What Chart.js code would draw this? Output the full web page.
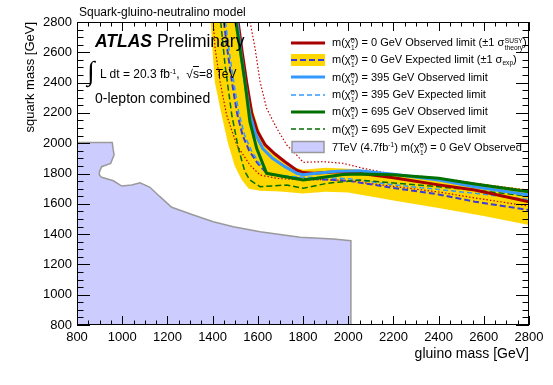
<!DOCTYPE html>
<html>
<head>
<meta charset="utf-8">
<script src="https://cdn.jsdelivr.net/npm/chart.js@4.4.1/dist/chart.umd.min.js"></script>
<style>
body{margin:0;background:#fff;}
#wrap{position:relative;width:553px;height:385px;font-family:"Liberation Sans",Arial,Helvetica,sans-serif;color:#000;overflow:hidden;}
#c{position:absolute;left:0;top:0;}
.t{position:absolute;white-space:nowrap;line-height:1;}
.sw{position:absolute;left:291px;}
.lt{position:absolute;left:332px;font-size:11px;line-height:1;white-space:nowrap;}
.ss{display:inline-flex;flex-direction:column;font-size:0.6em;line-height:0.95;vertical-align:0.4em;margin-left:0.5px;}
sup.s{font-size:0.6em;vertical-align:0.6em;line-height:0;}
sub.s{font-size:0.6em;vertical-align:-0.3em;line-height:0;}
</style>
</head>
<body>
<div id="wrap">
<canvas id="c" width="553" height="385"></canvas>

<div class="t" style="left:79px;top:6px;font-size:12px;">Squark-gluino-neutralino model</div>
<div class="t" style="left:95px;top:33px;font-size:17.5px;"><b><i>ATLAS</i></b> Preliminary</div>
<div class="t" style="left:87px;top:57px;font-size:27px;font-family:'DejaVu Sans';font-weight:200;">∫</div>
<div class="t" style="left:100px;top:68px;font-size:12px;">L dt = 20.3 fb<sup class="s">-1</sup>,&nbsp; √<span style="text-decoration:overline">s</span>=8 TeV</div>
<div class="t" style="left:95px;top:91px;font-size:14px;">0-lepton combined</div>

<!-- legend -->
<svg class="sw" style="top:36px" width="35" height="14"><line x1="0" y1="7" x2="34" y2="7" stroke="#a80000" stroke-width="3"/></svg>
<div class="lt" style="top:37px;">m(χ̃<span class="ss"><span>0</span><span>1</span></span>) = 0 GeV Observed limit (±1 σ<span class="ss"><span>SUSY</span><span>theory</span></span>)</div>

<svg class="sw" style="top:53px" width="35" height="14"><rect x="0" y="1" width="34" height="12" fill="#ffd700"/><line x1="0" y1="7" x2="34" y2="7" stroke="#3b3bd9" stroke-width="2" stroke-dasharray="6 3"/></svg>
<div class="lt" style="top:54px;">m(χ̃<span class="ss"><span>0</span><span>1</span></span>) = 0 GeV Expected limit (±1 σ<sub class="s">exp</sub>)</div>

<svg class="sw" style="top:70px" width="35" height="14"><line x1="0" y1="7" x2="34" y2="7" stroke="#3399ff" stroke-width="3"/></svg>
<div class="lt" style="top:72px;">m(χ̃<span class="ss"><span>0</span><span>1</span></span>) = 395 GeV Observed limit</div>

<svg class="sw" style="top:88px" width="35" height="14"><line x1="0" y1="7" x2="34" y2="7" stroke="#3399ff" stroke-width="1.5" stroke-dasharray="5 3"/></svg>
<div class="lt" style="top:89px;">m(χ̃<span class="ss"><span>0</span><span>1</span></span>) = 395 GeV Expected limit</div>

<svg class="sw" style="top:105px" width="35" height="14"><line x1="0" y1="7" x2="34" y2="7" stroke="#007000" stroke-width="3"/></svg>
<div class="lt" style="top:106px;">m(χ̃<span class="ss"><span>0</span><span>1</span></span>) = 695 GeV Observed limit</div>

<svg class="sw" style="top:122px" width="35" height="14"><line x1="0" y1="7" x2="34" y2="7" stroke="#007000" stroke-width="1.5" stroke-dasharray="5 3"/></svg>
<div class="lt" style="top:124px;">m(χ̃<span class="ss"><span>0</span><span>1</span></span>) = 695 GeV Expected limit</div>

<svg class="sw" style="top:140px" width="35" height="14"><rect x="1" y="1.5" width="32" height="11" fill="#ccccff" stroke="#999999" stroke-width="1.5"/></svg>
<div class="lt" style="top:142px;">7TeV (4.7fb<sup class="s">-1</sup>) m(χ̃<span class="ss"><span>0</span><span>1</span></span>) = 0 GeV Observed</div>
</div>

<script>
// ---- tick labels ----
const xTickVals = [800,1000,1200,1400,1600,1800,2000,2200,2400,2600,2800];
const yTickVals = [800,1000,1200,1400,1600,1800,2000,2200,2400,2600,2800];

// ---- data: [gluino mass, squark mass] ----
const sevenTeV = [[800,800],[800,2005],[956,2005],[960,1960],[964,1922],[949,1867],[909,1845],[899,1810],[899,1790],[909,1775],[961,1752],[998,1717],[1042,1724],[1079,1739],[1123,1709],[1167,1647],[1219,1577],[1315,1526],[1403,1482],[1492,1449],[1610,1416],[1787,1379],[1934,1368],[2012,1356],[2012,800],[800,800]];
const bandUp = [[1508,2800],[1528,2600],[1551,2400],[1582,2200],[1612,2060],[1650,1965],[1700,1895],[1760,1842],[1800,1825],[1900,1838],[2000,1832],[2200,1800],[2400,1765],[2600,1730],[2800,1692]];
const bandLo = [[1392,2800],[1400,2600],[1410,2400],[1438,2200],[1468,2000],[1498,1850],[1528,1760],[1560,1700],[1610,1686],[1700,1682],[1800,1668],[1900,1680],[2000,1675],[2200,1622],[2400,1572],[2600,1520],[2800,1460]];
const obs0 = [[1513,2800],[1531,2600],[1551,2400],[1573,2200],[1598,2080],[1632,1990],[1675,1930],[1720,1878],[1772,1822],[1800,1806],[1850,1802],[1950,1812],[2050,1802],[2200,1772],[2400,1725],[2560,1691],[2800,1614]];
const obs395 = [[1508,2800],[1525,2600],[1544,2400],[1564,2200],[1590,2060],[1622,1965],[1665,1900],[1720,1845],[1775,1800],[1800,1792],[1850,1800],[1950,1815],[2050,1818],[2200,1795],[2400,1757],[2560,1713],[2800,1658]];
const obs695 = [[1503,2800],[1521,2626],[1543,2406],[1565,2142],[1595,1966],[1639,1801],[1698,1785],[1801,1757],[1860,1768],[1978,1794],[2052,1797],[2200,1792],[2400,1768],[2560,1731],[2800,1680]];
const exp0 = [[1450,2800],[1467,2600],[1486,2400],[1508,2200],[1533,2050],[1562,1950],[1598,1870],[1640,1800],[1700,1782],[1800,1766],[1900,1760],[2000,1752],[2200,1705],[2400,1662],[2560,1614],[2800,1559]];
const exp395 = [[1457,2800],[1474,2600],[1494,2400],[1516,2200],[1542,2050],[1572,1950],[1606,1868],[1648,1800],[1700,1786],[1800,1776],[1900,1772],[2000,1766],[2200,1725],[2400,1695],[2560,1669],[2800,1628]];
const exp695 = [[1436,2800],[1455,2516],[1485,2186],[1514,1966],[1543,1812],[1565,1757],[1610,1713],[1728,1724],[1801,1702],[1905,1735],[2052,1757],[2200,1737],[2400,1712],[2560,1690],[2800,1650]];
const thLo = [[1403,2800],[1411,2626],[1433,2406],[1462,2186],[1507,1988],[1565,1856],[1610,1790],[1684,1768],[1801,1757],[1900,1760],[2000,1752],[2200,1715],[2400,1678],[2562,1638],[2800,1585]];
const thUp = [[1566,2800],[1588,2626],[1610,2406],[1639,2230],[1684,2098],[1728,1988],[1770,1925],[1801,1874],[1890,1878],[1978,1867],[2067,1834],[2215,1790],[2347,1779],[2500,1750],[2650,1718],[2800,1690]];

const pts = a => a.map(p => ({x:p[0], y:p[1]}));
const FONT = '"Liberation Sans", Arial, Helvetica, sans-serif';

function lineDs(data, color, width, dash, order){
  return {data: pts(data), borderColor: color, borderWidth: width, borderDash: dash || [],
          pointRadius: 0, fill: false, tension: 0, order: order};
}

const framePlugin = {
  id: 'frame',
  afterDatasetsDraw(chart){
    const {ctx, chartArea: a, scales: {x, y}} = chart;
    ctx.save();
    ctx.strokeStyle = '#000';
    ctx.lineWidth = 1;
    ctx.beginPath();
    const x0 = xTickVals[0], x1 = xTickVals[xTickVals.length-1];
    for (let v = x0; v <= x1; v += 50){
      const px = Math.round(x.getPixelForValue(v)) + 0.5;
      const L = (v % 200 === 0) ? 9 : 4.5;
      ctx.moveTo(px, a.bottom); ctx.lineTo(px, a.bottom - L);
      ctx.moveTo(px, a.top); ctx.lineTo(px, a.top + L);
    }
    const y0 = yTickVals[0], y1 = yTickVals[yTickVals.length-1];
    for (let v = y0; v <= y1; v += 50){
      const py = Math.round(y.getPixelForValue(v)) + 0.5;
      const L = (v % 200 === 0) ? 13 : 6.5;
      ctx.moveTo(a.left, py); ctx.lineTo(a.left + L, py);
      ctx.moveTo(a.right, py); ctx.lineTo(a.right - L, py);
    }
    ctx.stroke();
    ctx.strokeRect(Math.round(a.left)+0.5, Math.round(a.top)+0.5, Math.round(a.right-a.left)-1, Math.round(a.bottom-a.top)-1);
    ctx.restore();
  }
};

new Chart(document.getElementById('c'), {
  type: 'line',
  data: {
    datasets: [
      {data: pts(sevenTeV), borderColor: '#9a9a9a', borderWidth: 1.5, backgroundColor: '#ccccff',
       fill: 'shape', pointRadius: 0, tension: 0, order: 100},
      {data: pts(bandUp.concat(bandLo.slice().reverse())), borderColor: 'rgba(0,0,0,0)', borderWidth: 0,
       backgroundColor: '#ffd700', fill: 'shape', pointRadius: 0, tension: 0, order: 90},
      lineDs(thUp, '#c00000', 1.2, [1.5, 2], 80),
      lineDs(thLo, '#c00000', 1.2, [1.5, 2], 79),
      lineDs(exp0, '#3b3bd9', 2, [6, 3], 70),
      lineDs(exp395, '#3399ff', 1.5, [5, 3], 69),
      lineDs(exp695, '#007000', 1.5, [6, 3], 68),
      lineDs(obs0, '#a80000', 3, [], 60),
      lineDs(obs395, '#3399ff', 3, [], 50),
      lineDs(obs695, '#007000', 3, [], 40)
    ]
  },
  options: {
    responsive: false,
    animation: false,
    layout: {padding: {left: 0, right: 24, top: 22, bottom: 0}},
    plugins: {legend: {display: false}, tooltip: {enabled: false}, title: {display: false}},
    scales: {
      x: {
        type: 'linear', position: 'bottom',
        min: xTickVals[0], max: xTickVals[xTickVals.length-1],
        afterBuildTicks: s => { s.ticks = xTickVals.map(v => ({value: v})); },
        grid: {display: false, drawTicks: false},
        border: {display: false},
        ticks: {color: '#000', font: {family: FONT, size: 13}, padding: 5, maxRotation: 0, autoSkip: false,
                callback: v => String(v)},
        title: {display: true, text: 'gluino mass [GeV]', align: 'end', color: '#000',
                font: {family: FONT, size: 14}, padding: {top: 22, bottom: 22}},
        afterFit: s => { s.height = 60; }
      },
      y: {
        type: 'linear', position: 'left',
        min: yTickVals[0], max: yTickVals[yTickVals.length-1],
        afterBuildTicks: s => { s.ticks = yTickVals.map(v => ({value: v})); },
        grid: {display: false, drawTicks: false},
        border: {display: false},
        ticks: {color: '#000', font: {family: FONT, size: 13}, padding: 5, autoSkip: false,
                callback: v => String(v)},
        title: {display: true, text: 'squark mass [GeV]', align: 'end', color: '#000',
                font: {family: FONT, size: 13}, padding: {top: 23, bottom: 23}},
        afterFit: s => { s.width = 77; }
      }
    }
  },
  plugins: [framePlugin]
});
</script>
</body>
</html>
